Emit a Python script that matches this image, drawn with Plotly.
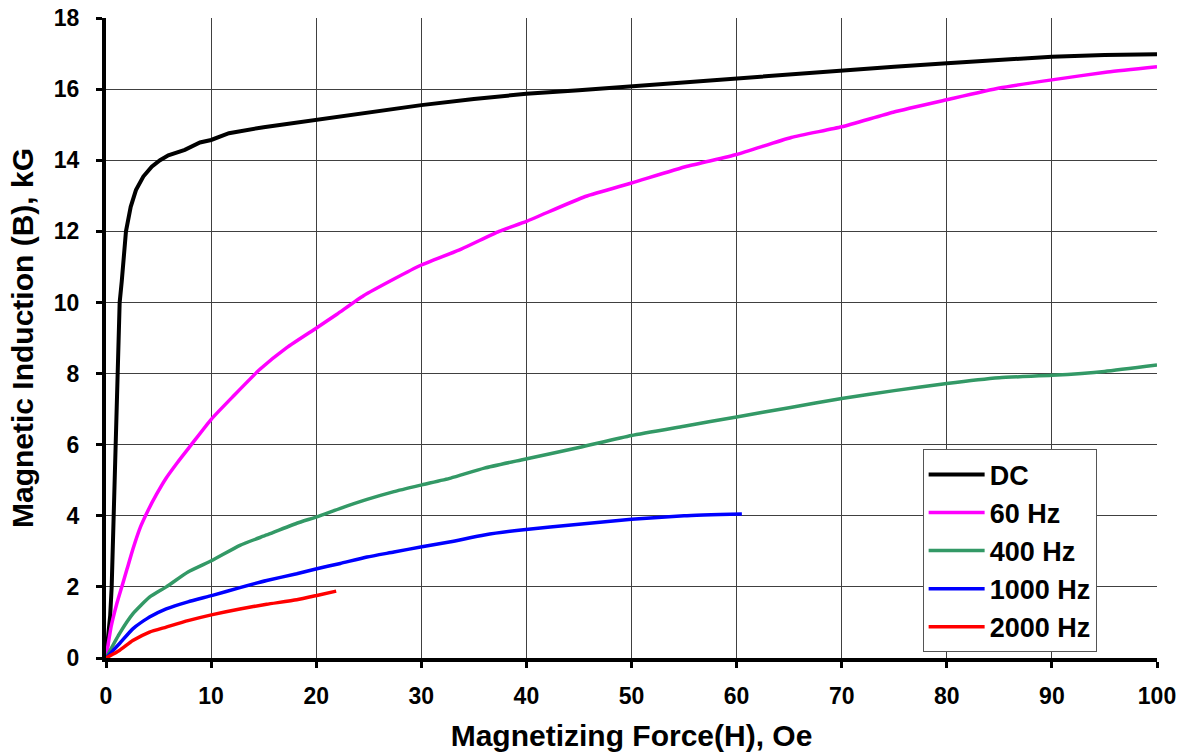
import plotly.graph_objects as go

# Data
dc_h = [0, 0.2, 0.4, 0.54, 0.73, 0.86, 1.02, 1.3, 1.5, 1.7, 1.9, 2.35, 2.85, 3.55, 4.35, 5.14, 5.93, 7.5, 8.94,
        10, 11.7, 15, 20, 25, 30, 35, 40, 45, 50, 55, 60, 65, 70, 75, 80, 85, 90, 95, 100]
dc_b = [0, 0.6, 1.2, 2.0, 4.0, 6.0, 8.0, 10.0, 10.6, 11.4, 12.0, 12.69, 13.16, 13.54, 13.82, 14.0, 14.14, 14.29, 14.5,
        14.57, 14.76, 14.93, 15.14, 15.36, 15.55, 15.72, 15.87, 15.97, 16.08, 16.2, 16.32, 16.43, 16.53, 16.63, 16.73,
        16.82, 16.91, 16.96, 16.98]

hz60_h = [0, 0.5, 1.0, 1.5, 2.0, 2.6, 3.3, 4.0, 4.8, 5.7, 6.8, 8.12, 10.03, 12.1, 14.65, 17.2, 20.06, 21.97, 24.5,
          27.4, 29.9, 33.8, 37.4, 40, 45.6, 50, 55.3, 60, 65.2, 70, 74.9, 80, 85, 90, 95.3, 100]
hz60_b = [0, 0.9, 1.5, 2.0, 2.5, 3.1, 3.7, 4.15, 4.6, 5.05, 5.5, 6.0, 6.72, 7.36, 8.12, 8.73, 9.29, 9.67, 10.19,
          10.66, 11.04, 11.5, 12.0, 12.28, 12.98, 13.36, 13.83, 14.16, 14.64, 14.94, 15.35, 15.7, 16.03, 16.26, 16.48,
          16.63]

hz400_h = [0, 1.27, 2.55, 4.14, 5.73, 7.8, 10.13, 12.74, 15.29, 18.15, 20.06, 22.3, 24.84, 27.4, 30.06, 32.8, 36.0,
           39.5, 45, 50, 55, 60, 65, 70, 75, 80, 85, 90, 95, 100]
hz400_b = [0, 0.68, 1.24, 1.71, 2.0, 2.42, 2.75, 3.17, 3.46, 3.79, 3.97, 4.21, 4.46, 4.68, 4.87, 5.06, 5.34,
           5.57, 5.92, 6.26, 6.52, 6.78, 7.04, 7.3, 7.52, 7.72, 7.88, 7.95, 8.06, 8.24]

hz1000_h = [0, 1.27, 2.55, 4.14, 5.73, 7.8, 10.13, 12.74, 15.29, 18.15, 20.06, 22.3, 24.84, 27.4, 30.06, 32.8, 36.0,
            39.5, 45, 50, 55, 60.5]
hz1000_b = [0, 0.40, 0.82, 1.15, 1.38, 1.58, 1.76, 1.98, 2.18, 2.37, 2.51, 2.66, 2.84, 2.98, 3.13, 3.27, 3.46,
            3.6, 3.76, 3.9, 4.0, 4.05]

hz2000_h = [0, 1.27, 2.55, 4.14, 5.73, 7.8, 10.13, 12.74, 15.29, 18.15, 20.06, 21.9]
hz2000_b = [0, 0.21, 0.49, 0.73, 0.87, 1.05, 1.22, 1.38, 1.51, 1.64, 1.76, 1.88]

series = [
    ("DC", dc_h, dc_b, "#000000", 4, "linear"),
    ("60 Hz", hz60_h, hz60_b, "#FF00FF", 3.5, "spline"),
    ("400 Hz", hz400_h, hz400_b, "#339966", 3.5, "spline"),
    ("1000 Hz", hz1000_h, hz1000_b, "#0000FF", 3.5, "spline"),
    ("2000 Hz", hz2000_h, hz2000_b, "#FF0000", 3.5, "spline"),
]

x_ticks = list(range(0, 101, 10))
y_ticks = list(range(0, 19, 2))

FONT = "Arial, 'Liberation Sans', sans-serif"

fig = go.Figure()
for name, h, b, color, w, shape in series:
    line = dict(color=color, width=w, shape=shape)
    if shape == "spline":
        line["smoothing"] = 0.5
    fig.add_trace(go.Scatter(x=h, y=b, mode="lines", name=name,
                             line=line, cliponaxis=False))

fig.update_layout(
    width=1185, height=755,
    margin=dict(l=106, r=28, t=18, b=97),
    plot_bgcolor="white", paper_bgcolor="white",
    font=dict(family=FONT, color="black"),
    showlegend=True,
    legend=dict(
        x=0.777, y=0.326, xanchor="left", yanchor="top",
        bgcolor="white", bordercolor="#555555", borderwidth=1,
        font=dict(family=FONT, size=27, color="black", weight="bold"),
        tracegroupgap=0, itemwidth=56,
    ),
)

fig.update_xaxes(
    range=[0, 100], tickvals=x_ticks, ticktext=[str(v) for v in x_ticks],
    showgrid=True, gridcolor="#404040", gridwidth=1,
    showline=True, linecolor="black", linewidth=4,
    ticks="outside", ticklen=6, tickwidth=3, tickcolor="black",
    tickfont=dict(family=FONT, size=23, color="black", weight="bold"),
    ticklabelstandoff=8, automargin=False,
    zeroline=False,
    title=dict(text="Magnetizing Force(H), Oe",
               font=dict(family=FONT, size=30, color="black", weight="bold"),
               standoff=18),
)
fig.update_yaxes(
    range=[0, 18], tickvals=y_ticks, ticktext=[str(v) for v in y_ticks],
    showgrid=True, gridcolor="#404040", gridwidth=1,
    showline=True, linecolor="black", linewidth=4,
    ticks="outside", ticklen=6, tickwidth=3, tickcolor="black",
    tickfont=dict(family=FONT, size=23, color="black", weight="bold"),
    ticklabelstandoff=12, automargin=False,
    zeroline=False,
    title=dict(text="Magnetic Induction (B), kG",
               font=dict(family=FONT, size=30, color="black", weight="bold"),
               standoff=12),
)

fig.write_html("out.html")
